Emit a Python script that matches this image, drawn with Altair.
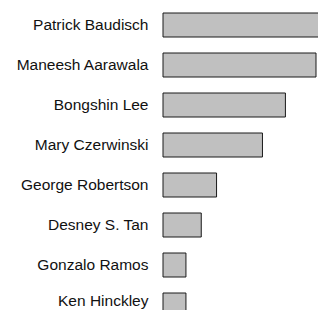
import altair as alt
import pandas as pd

names = ["Patrick Baudisch", "Maneesh Aarawala", "Bongshin Lee", "Mary Czerwinski",
         "George Robertson", "Desney S. Tan", "Gonzalo Ramos", "Ken Hinckley"]
counts = [22, 20, 16, 13, 7, 5, 3, 3]

df = pd.DataFrame({"name": names, "count": counts})

chart = alt.Chart(df).mark_bar(
    fill="#c0c0c0", stroke="#1a1a1a", strokeWidth=1
).encode(
    x=alt.X("count:Q", axis=None,
            scale=alt.Scale(domain=[0, 20.26], nice=False, zero=True)),
    y=alt.Y("name:N", sort=names, title=None,
            scale=alt.Scale(range=[-3, 317], paddingInner=0.4, paddingOuter=0.2),
            axis=alt.Axis(domain=False, ticks=False, tickSize=0, labelPadding=15,
                          labelFont="Liberation Sans", labelFontSize=15.5,
                          labelOffset={"condition": {"test": "datum.value == 'Ken Hinckley'", "value": -4}, "value": 0},
                          labelColor="#111111", grid=False, labelLimit=0)),
).properties(
    width=155, height=302,
    autosize=alt.AutoSizeParams(type="none"),
    padding={"left": 155, "top": 0, "right": 0, "bottom": 0},
).configure_view(stroke=None)

chart.save("out.html", embed_options={"renderer": "svg", "actions": False})
